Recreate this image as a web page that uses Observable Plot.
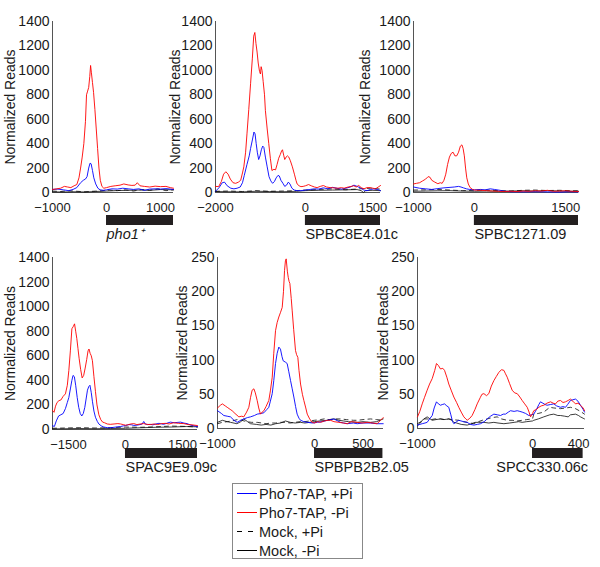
<!DOCTYPE html>
<html><head><meta charset="utf-8">
<script src="https://cdn.jsdelivr.net/npm/d3@7"></script>
<script src="https://cdn.jsdelivr.net/npm/@observablehq/plot@0.6"></script>
<style>
body{margin:0;background:#fff;}
#chart{position:relative;width:600px;height:567px;font-family:"Liberation Sans",Arial,sans-serif;color:#1a1a1a;}
#chart > svg{position:absolute;font-family:"Liberation Sans",Arial,sans-serif !important;font-size:14px !important;background:transparent !important;overflow:visible !important;}
#chart > svg g[aria-label="x-axis tick label"]{font-size:13px;}
#chart > svg.bar{font-size:14.5px !important;}
.legend{position:absolute;left:232px;top:483px;width:129px;height:74px;border:1px solid #888;background:#fff;font-size:14.5px;}
.legend .row{display:flex;align-items:center;height:19px;}
.legend .row svg{display:block;margin-left:4px;margin-right:2px;}
</style></head><body><div id="chart"></div>
<script>
// ---------- data ----------
const seriesNames = ["Pho7-TAP, +Pi", "Pho7-TAP, -Pi", "Mock, +Pi", "Mock, -Pi"];
const geneNames = ["pho1\u207A", "SPBC8E4.01c", "SPBC1271.09", "SPAC9E9.09c", "SPBPB2B2.05", "SPCC330.06c"];
const geneStarts = [0, 0, 0, 0, 0, 0];
const geneEnds = [1240, 1670, 1710, 1895, 705, 440];
const xDomains = [[-1000, 1240], [-2000, 1670], [-1000, 1710], [-1920, 1895], [-1000, 711], [-1000, 452]];
const xTicks = [[-1000, 0, 1000], [-2000, 0, 1500], [-1000, 0, 1500], [-1500, 0, 1500], [-1000, 0, 500], [-1000, 0, 400]];
const yMax = [1400, 1400, 1400, 1400, 250, 250];
const yTicksBig = [0, 200, 400, 600, 800, 1000, 1200, 1400];
const yTicksSmall = [0, 50, 100, 150, 200, 250];

// panel 1: pho1+
const p1Blue = [[-1000,25],[-900,28],[-800,22],[-700,15],[-620,25],[-550,40],[-480,80],[-430,100],[-390,110],[-360,130],[-330,200],[-305,240],[-285,235],[-260,180],[-235,120],[-200,70],[-160,35],[-120,22],[-60,18],[0,22],[100,30],[200,28],[300,35],[400,30],[500,25],[600,30],[700,18],[800,28],[900,30],[1000,28],[1100,32],[1240,25]];
const p1Red = [[-1000,25],[-920,30],[-850,35],[-780,50],[-720,45],[-660,40],[-600,55],[-550,65],[-510,120],[-480,200],[-450,290],[-420,400],[-390,580],[-370,800],[-350,830],[-330,860],[-310,950],[-295,1040],[-280,980],[-260,900],[-240,820],[-215,680],[-190,520],[-165,360],[-140,200],[-115,100],[-85,50],[-50,35],[0,40],[80,50],[160,55],[250,60],[320,70],[400,62],[470,58],[530,60],[570,80],[620,55],[700,50],[800,45],[900,52],[1000,48],[1100,50],[1180,40],[1240,35]];
const p1MockPlus = [[-1000,12],[-850,8],[-700,15],[-550,10],[-400,6],[-250,10],[-100,14],[50,20],[200,15],[350,22],[500,12],[650,25],[800,18],[950,30],[1100,15],[1240,22]];
const p1MockMinus = [[-1000,5],[-800,4],[-600,6],[-400,4],[-200,8],[0,12],[200,16],[400,18],[600,20],[800,18],[1000,24],[1240,22]];

// panel 2: SPBC8E4.01c
const p2Blue = [[-2000,10],[-1920,40],[-1850,80],[-1800,85],[-1740,55],[-1660,35],[-1590,30],[-1520,35],[-1450,45],[-1400,80],[-1360,140],[-1300,230],[-1250,300],[-1220,360],[-1180,430],[-1145,495],[-1120,480],[-1095,400],[-1070,330],[-1040,270],[-1010,300],[-980,350],[-950,380],[-925,370],[-890,290],[-850,210],[-810,130],[-770,95],[-730,75],[-690,90],[-650,120],[-610,140],[-580,135],[-545,100],[-500,75],[-460,50],[-420,60],[-380,85],[-345,70],[-300,35],[-250,20],[-180,15],[-100,15],[0,20],[100,25],[200,30],[300,28],[400,38],[500,30],[600,42],[700,35],[800,28],[900,35],[1000,45],[1080,60],[1150,50],[1220,38],[1300,20],[1370,15],[1450,25],[1520,30],[1600,25],[1670,15]];
const p2Red = [[-2000,50],[-1930,48],[-1870,90],[-1820,150],[-1770,170],[-1720,150],[-1670,110],[-1610,80],[-1550,75],[-1490,85],[-1440,100],[-1400,160],[-1370,210],[-1330,330],[-1300,480],[-1260,680],[-1220,890],[-1180,1100],[-1150,1280],[-1125,1310],[-1100,1220],[-1075,1150],[-1050,1060],[-1020,990],[-1000,970],[-985,1030],[-965,1000],[-940,910],[-910,800],[-890,670],[-850,520],[-815,400],[-780,280],[-745,180],[-700,190],[-665,185],[-630,230],[-595,280],[-560,310],[-530,340],[-510,350],[-480,300],[-460,270],[-430,290],[-400,300],[-370,290],[-335,260],[-290,210],[-245,150],[-210,100],[-185,70],[-140,55],[-100,48],[-50,50],[0,55],[70,65],[130,55],[200,45],[260,40],[330,50],[400,57],[470,45],[550,40],[630,38],[720,35],[800,40],[860,35],[950,45],[1020,50],[1075,55],[1130,45],[1185,58],[1240,40],[1300,30],[1370,40],[1440,40],[1500,35],[1560,30],[1620,45],[1670,57]];
const p2MockPlus = [[-2000,10],[-1700,12],[-1400,8],[-1100,15],[-800,10],[-500,12],[-200,15],[0,20],[300,25],[600,30],[900,22],[1200,30],[1450,35],[1670,28]];
const p2MockMinus = [[-2000,8],[-1700,6],[-1400,5],[-1100,10],[-800,8],[-500,6],[-200,10],[0,15],[300,18],[600,20],[900,22],[1150,24],[1240,15],[1290,0],[1340,15],[1500,18],[1670,15]];

// panel 3: SPBC1271.09
const p3Blue = [[-1000,45],[-900,35],[-800,30],[-700,25],[-600,32],[-500,38],[-400,42],[-330,45],[-260,50],[-220,45],[-180,38],[-130,30],[-80,25],[0,22],[100,25],[180,22],[260,30],[330,25],[420,18],[500,10],[600,6],[800,5],[1000,6],[1200,5],[1400,3],[1550,6],[1710,5]];
const p3Red = [[-1000,70],[-950,75],[-900,80],[-850,95],[-800,110],[-760,130],[-730,125],[-700,100],[-650,85],[-600,72],[-560,80],[-530,75],[-500,100],[-470,150],[-440,230],[-410,290],[-380,320],[-350,330],[-320,300],[-290,300],[-260,330],[-230,380],[-205,390],[-185,360],[-165,300],[-145,200],[-125,120],[-100,70],[-70,40],[-30,25],[0,20],[100,18],[200,15],[300,12],[400,10],[500,8],[600,10],[700,8],[800,12],[900,10],[1000,14],[1100,12],[1200,18],[1300,10],[1400,12],[1500,14],[1600,10],[1710,8]];
const p3MockPlus = [[-1000,20],[-800,22],[-600,25],[-400,20],[-200,15],[0,18],[200,20],[400,15],[600,12],[800,18],[1000,20],[1200,16],[1400,18],[1600,14],[1710,15]];
const p3MockMinus = [[-1000,10],[-800,12],[-600,14],[-400,15],[-200,12],[0,10],[200,12],[400,10],[600,12],[800,14],[1000,12],[1200,15],[1400,12],[1600,10],[1710,10]];

// panel 4: SPAC9E9.09c
const p4Blue = [[-1920,30],[-1870,25],[-1820,70],[-1760,110],[-1700,120],[-1640,130],[-1580,170],[-1530,220],[-1490,260],[-1450,330],[-1410,400],[-1380,440],[-1345,430],[-1310,360],[-1270,260],[-1230,180],[-1190,130],[-1150,110],[-1110,130],[-1070,180],[-1040,240],[-1000,320],[-965,350],[-935,360],[-900,300],[-870,230],[-830,150],[-790,100],[-740,65],[-700,45],[-640,30],[-570,20],[-480,15],[-400,14],[-300,18],[-200,22],[-130,24],[-50,30],[0,32],[90,40],[160,38],[220,33],[300,35],[380,40],[440,45],[480,65],[520,45],[580,40],[650,42],[720,38],[800,45],[880,50],[920,48],[1000,42],[1080,50],[1180,60],[1280,55],[1380,58],[1450,60],[1540,52],[1620,48],[1720,35],[1800,30],[1895,24]];
const p4Red = [[-1920,155],[-1880,140],[-1840,190],[-1800,220],[-1750,235],[-1700,240],[-1640,270],[-1580,290],[-1530,360],[-1490,480],[-1450,640],[-1410,820],[-1370,840],[-1340,860],[-1310,800],[-1280,740],[-1250,660],[-1220,580],[-1180,490],[-1140,420],[-1100,440],[-1060,500],[-1020,570],[-985,640],[-960,655],[-930,620],[-900,600],[-870,560],[-830,430],[-790,310],[-750,200],[-700,120],[-650,80],[-600,60],[-550,55],[-480,45],[-400,42],[-300,45],[-200,48],[-130,45],[-60,40],[0,35],[60,38],[140,45],[220,48],[300,40],[400,45],[480,48],[560,42],[650,40],[750,45],[850,40],[950,48],[1050,50],[1150,45],[1270,55],[1400,50],[1535,48],[1650,40],[1750,38],[1895,32]];
const p4MockPlus = [[-1920,10],[-1600,12],[-1200,15],[-800,12],[-400,15],[0,20],[400,18],[800,22],[1200,28],[1600,25],[1895,20]];
const p4MockMinus = [[-1920,5],[-1600,6],[-1200,8],[-800,6],[-400,8],[0,10],[400,14],[800,18],[1200,20],[1600,24],[1895,22]];

// panel 5: SPBPB2B2.05
const p5Blue = [[-1000,26],[-960,22],[-935,19],[-900,18],[-866,17],[-830,12],[-797,9],[-760,12],[-729,14],[-690,16],[-660,17],[-620,19],[-591,21],[-550,22],[-522,23],[-490,28],[-471,31],[-455,40],[-436,51],[-420,70],[-402,95],[-385,110],[-368,119],[-351,116],[-335,105],[-323,99],[-300,97],[-282,95],[-265,83],[-247,70],[-230,58],[-213,46],[-195,32],[-179,21],[-160,15],[-144,12],[-110,10],[-75,9],[-20,8],[28,9],[80,10],[131,12],[170,13],[200,14],[240,11],[268,9],[300,8],[337,7],[400,8],[440,7],[500,8],[577,8],[640,7],[708,7]];
const p5Red = [[-1000,30],[-970,34],[-950,36],[-920,33],[-900,31],[-870,28],[-849,26],[-820,22],[-780,17],[-750,18],[-729,17],[-700,24],[-677,31],[-660,45],[-643,56],[-625,58],[-610,52],[-591,41],[-575,30],[-557,21],[-540,24],[-522,26],[-500,32],[-471,41],[-455,55],[-436,75],[-420,110],[-402,143],[-385,155],[-368,163],[-350,170],[-333,177],[-320,200],[-309,231],[-300,245],[-292,248],[-280,230],[-271,221],[-262,215],[-254,212],[-240,190],[-230,172],[-215,145],[-196,114],[-185,108],[-172,104],[-160,85],[-144,65],[-125,50],[-110,41],[-90,30],[-75,21],[-50,14],[-24,9],[0,8],[30,10],[62,9],[100,11],[140,12],[165,12],[200,10],[251,9],[300,8],[337,7],[380,10],[440,9],[490,8],[543,9],[600,8],[646,7],[680,12],[708,16]];
const p5MockPlus = [[-1000,7],[-950,9],[-900,10],[-850,11],[-797,13],[-750,12],[-700,10],[-650,9],[-591,9],[-540,8],[-500,7],[-450,8],[-400,8],[-350,9],[-300,9],[-250,8],[-200,9],[-150,10],[-100,10],[-50,11],[0,12],[60,13],[100,14],[150,13],[200,14],[268,14],[330,13],[400,12],[440,12],[500,13],[577,14],[640,13],[708,12]];
const p5MockMinus = [[-1000,9],[-950,12],[-900,10],[-866,9],[-800,7],[-760,10],[-729,14],[-690,10],[-660,7],[-600,6],[-550,5],[-500,6],[-450,5],[-400,7],[-350,8],[-300,11],[-250,9],[-200,8],[-144,9],[-100,8],[-50,9],[0,10],[50,11],[131,12],[200,14],[250,12],[300,11],[350,10],[440,9],[500,10],[577,9],[640,10],[708,14]];

// panel 6: SPCC330.06c
const p6Blue = [[-1000,5],[-980,6],[-959,7],[-935,8],[-916,9],[-895,14],[-872,19],[-855,30],[-835,39],[-818,36],[-800,34],[-785,35],[-765,36],[-745,33],[-728,31],[-710,20],[-695,10],[-684,7],[-660,10],[-641,12],[-600,10],[-568,9],[-540,6],[-510,5],[-480,6],[-452,7],[-420,10],[-394,14],[-365,18],[-336,21],[-305,20],[-278,19],[-255,21],[-235,21],[-210,24],[-191,26],[-160,25],[-133,26],[-110,25],[-90,24],[-60,22],[-32,19],[-10,20],[11,21],[35,28],[55,35],[69,39],[90,37],[110,35],[127,34],[155,35],[185,36],[210,33],[243,31],[265,32],[287,31],[305,35],[330,41],[350,42],[374,43],[395,40],[417,34],[440,28],[452,24]];
const p6Red = [[-1000,17],[-980,25],[-959,36],[-940,45],[-916,56],[-895,65],[-872,73],[-850,85],[-835,95],[-818,92],[-800,87],[-780,88],[-765,85],[-745,75],[-728,65],[-705,55],[-684,46],[-660,38],[-641,31],[-620,24],[-597,17],[-580,14],[-568,12],[-545,15],[-525,19],[-500,28],[-481,36],[-455,45],[-440,50],[-423,51],[-400,48],[-380,51],[-358,62],[-336,70],[-315,76],[-293,82],[-270,86],[-249,85],[-235,80],[-220,75],[-200,66],[-177,56],[-155,52],[-133,51],[-110,46],[-90,41],[-68,36],[-46,31],[-30,24],[-17,17],[0,22],[11,26],[35,28],[55,31],[75,33],[98,34],[125,37],[157,39],[180,37],[200,36],[220,40],[243,41],[265,38],[287,39],[310,41],[330,43],[350,40],[374,36],[395,37],[417,34],[440,30],[452,26]];
const p6MockPlus = [[-1000,7],[-970,10],[-940,14],[-916,14],[-880,13],[-850,14],[-800,14],[-760,13],[-728,14],[-700,13],[-641,12],[-600,10],[-568,9],[-510,7],[-470,10],[-420,13],[-394,14],[-350,16],[-307,17],[-270,14],[-220,12],[-177,12],[-133,11],[-90,12],[-50,13],[0,14],[11,21],[50,22],[98,24],[150,31],[185,30],[243,29],[290,30],[330,31],[374,29],[417,25],[452,21]];
const p6MockMinus = [[-1000,4],[-975,8],[-959,12],[-935,15],[-916,17],[-890,14],[-872,12],[-840,13],[-800,14],[-770,13],[-728,14],[-700,12],[-684,9],[-660,8],[-620,6],[-568,5],[-530,7],[-500,9],[-470,9],[-423,9],[-380,8],[-336,9],[-300,8],[-249,7],[-200,8],[-160,9],[-120,10],[-90,9],[-50,10],[0,11],[11,12],[50,14],[98,17],[150,20],[185,21],[220,19],[243,19],[280,18],[310,17],[330,20],[374,21],[400,19],[417,17],[440,15],[452,14]];

// ---------- layout / style ----------
const panels = [
  [p1Blue, p1Red, p1MockPlus, p1MockMinus],
  [p2Blue, p2Red, p2MockPlus, p2MockMinus],
  [p3Blue, p3Red, p3MockPlus, p3MockMinus],
  [p4Blue, p4Red, p4MockPlus, p4MockMinus],
  [p5Blue, p5Red, p5MockPlus, p5MockMinus],
  [p6Blue, p6Red, p6MockPlus, p6MockMinus]
];
const frames = [
  {left: 52, top: 21, w: 121, h: 171},
  {left: 215, top: 21, w: 165, h: 171},
  {left: 413, top: 21, w: 165, h: 171},
  {left: 52, top: 257, w: 145, h: 172},
  {left: 217, top: 257, w: 166, h: 171},
  {left: 417, top: 257, w: 167, h: 171}
];
const barTops = [215, 215, 215, 448, 448, 448];
const labelOffsets = [47, 45, 53, 47, 40, 39];
const geneAnchor = ["start", "start", "start", "start", "start", "end"];
const colors = ["#0000ff", "#ff0000", "#000000", "#000000"];
const dashes = [null, null, "4,4", null];
const ml = 56, mr = 26, mt = 12, mb = 26;

const chart = document.getElementById("chart");

panels.forEach((series, i) => {
  const f = frames[i];
  const lineOrder = [2, 3, 0, 1];
  const marks = [
    Plot.ruleY([0], {stroke: "#555", strokeWidth: 1}),
    Plot.ruleX([xDomains[i][0]], {stroke: "#555", strokeWidth: 1}),
    Plot.axisY({ticks: yMax[i] > 300 ? yTicksBig : yTicksSmall, tickSize: 0, tickPadding: 3, tickFormat: "d",
      label: "Normalized Reads", labelAnchor: "center", labelOffset: labelOffsets[i], labelArrow: "none"}),
    Plot.axisX({ticks: xTicks[i], tickSize: 0, tickPadding: 10, tickFormat: "d", label: null})
  ];
  lineOrder.forEach(k => {
    marks.push(Plot.line(series[k], {
      x: d => d[0], y: d => d[1], stroke: colors[k], strokeWidth: 0.9,
      strokeDasharray: dashes[k] || undefined, strokeOpacity: k >= 2 ? 0.85 : 1
    }));
  });
  const svg = Plot.plot({
    width: f.w + ml + mr, height: f.h + mt + mb,
    marginLeft: ml, marginRight: mr, marginTop: mt, marginBottom: mb,
    x: {domain: xDomains[i]},
    y: {domain: [0, yMax[i]]},
    marks
  });
  svg.style.left = (f.left - ml) + "px";
  svg.style.top = (f.top - mt) + "px";
  chart.appendChild(svg);

  // gene bar + label
  const gene = {start: geneStarts[i], end: geneEnds[i], name: geneNames[i]};
  const anchor = geneAnchor[i];
  const bar = Plot.plot({
    width: f.w + ml + mr, height: 30,
    marginLeft: ml, marginRight: mr, marginTop: 0, marginBottom: 20,
    x: {domain: xDomains[i], axis: null},
    marks: [
      Plot.barX([gene], {x1: "start", x2: "end", fill: "#231f20"}),
      Plot.text([gene], {
        x: anchor === "end" ? "end" : "start", text: "name", frameAnchor: "bottom",
        lineAnchor: "top", dy: 3, dx: anchor === "end" ? 5 : 0, textAnchor: anchor,
        fontStyle: i === 0 ? "italic" : "normal", fill: "#1a1a1a"
      })
    ]
  });
  bar.classList.add("bar");
  bar.style.left = (f.left - ml) + "px";
  bar.style.top = barTops[i] + "px";
  chart.appendChild(bar);
});

// legend
const legend = document.createElement("div");
legend.className = "legend";
seriesNames.forEach((name, k) => {
  const row = document.createElement("div");
  row.className = "row";
  const sw = d3.create("svg").attr("width", 20).attr("height", 19);
  sw.append("line").attr("x1", 0).attr("x2", 20).attr("y1", 9.5).attr("y2", 9.5)
    .attr("stroke", colors[k]).attr("stroke-width", 1)
    .attr("stroke-dasharray", k === 2 ? "5,6" : null);
  row.appendChild(sw.node());
  const t = document.createElement("span");
  t.textContent = name;
  row.appendChild(t);
  legend.appendChild(row);
});
chart.appendChild(legend);
</script>
</body></html>
